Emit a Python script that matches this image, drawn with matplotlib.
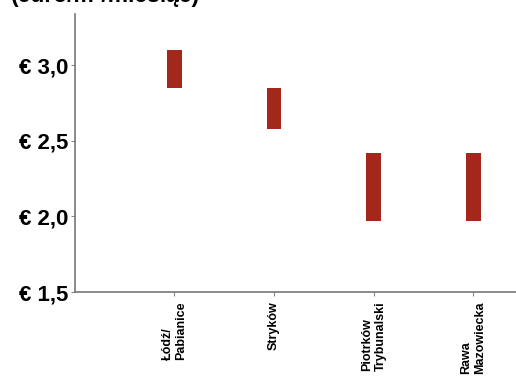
import matplotlib.pyplot as plt

cities = ["Łódź/\nPabianice", "Stryków", "Piotrków\nTrybunalski", "Rawa\nMazowiecka"]
rent_low = [2.85, 2.58, 1.97, 1.97]
rent_high = [3.1, 2.85, 2.42, 2.42]
y_ticks = [1.5, 2.0, 2.5, 3.0]
y_tick_labels = ["€ 1,5", "€ 2,0", "€ 2,5", "€ 3,0"]


def main():
    plt.rcParams["font.family"] = ["Liberation Sans", "DejaVu Sans"]
    fig = plt.figure(figsize=(5.16, 3.87), dpi=100)
    ax = fig.add_axes([0.145, 0.245, 0.855, 0.72])

    x = list(range(1, len(cities) + 1))
    heights = [h - l for l, h in zip(rent_low, rent_high)]
    ax.bar(x, heights, bottom=rent_low, width=0.15, color="#a3281b")

    ax.set_xlim(0, 4.43)
    ax.set_ylim(1.5, 3.34)
    ax.set_yticks(y_ticks)
    ax.set_yticklabels(y_tick_labels, fontsize=16, fontweight="bold")
    ax.set_xticks(x)
    ax.set_xticklabels(cities, rotation=90, fontsize=9, fontweight="bold",
                       va="top", ha="center", multialignment="left")

    for side in ("top", "right"):
        ax.spines[side].set_visible(False)
    for side in ("left", "bottom"):
        ax.spines[side].set_color("#777777")
        ax.spines[side].set_linewidth(1.2)
    ax.tick_params(axis="both", colors="#888888", length=3, labelcolor="black")
    ax.tick_params(axis="y", pad=2)

    # title sits mostly above the top edge, as in the source scan
    fig.text(0.022, 0.995, "(euro/m²/miesiąc)", fontsize=16.5, fontweight="bold",
             va="baseline", ha="left")

    fig.savefig("out.png", dpi=100)


if __name__ == "__main__":
    main()
